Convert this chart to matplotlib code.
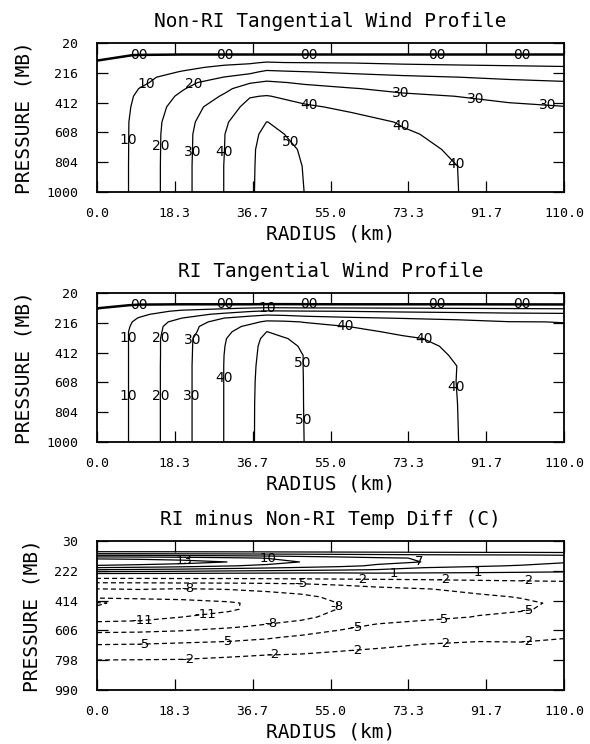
import numpy as np
import matplotlib
matplotlib.use("Agg")
import matplotlib.pyplot as plt

# ---------------- data ----------------
radius_km = [0, 10, 20, 30, 36, 40, 44, 49, 60, 72, 85, 97, 110]

# Non-RI tangential wind (m/s); rows = pressure levels, columns = radius_km
p_nonri = [20, 60, 100, 150, 180, 210, 245, 280, 320, 370, 440, 540, 620, 720, 830, 1000]
vt_nonri = [
    [-5.0] * 13,
    [-2.5] * 13,
    [-0.5, 0.1, 0.3, 0.3, 0.3, 0.3, 0.3, 0.3, 0.3, 0.3, 0.3, 0.3, 0.3],
    [0.2, 2.4, 5.0, 7.8, 9.0, 11.0, 10.3, 10.1, 9.75, 8.7, 8.0, 7.5, 7.0],
    [0.2, 3.8, 7.8, 11.9, 13.7, 16.5, 15.9, 15.2, 14.3, 13.0, 12.1, 11.4, 10.7],
    [0.2, 5.2, 10.5, 15.8, 18.3, 21.6, 20.9, 20.2, 18.7, 17.1, 15.8, 14.8, 13.9],
    [0.2, 7.1, 14.35, 20.2, 23.2, 26.6, 25.6, 24.6, 22.7, 21.3, 20.05, 18.75, 17.5],
    [0.2, 7.9, 16.9, 25.3, 29.35, 31.2, 30.2, 28.9, 26.4, 24.5, 22.8, 21.7, 20.7],
    [0.2, 10.2, 19.2, 28.0, 34.3, 35.4, 33.9, 32.4, 30.4, 28.1, 25.9, 24.5, 23.2],
    [0.2, 11.6, 21.7, 31.1, 39.5, 40.4, 38.9, 36.3, 33.3, 31.4, 29.9, 28.0, 26.3],
    [0.2, 12.5, 24.2, 35.6, 42.7, 44.3, 42.9, 41.3, 38.0, 34.6, 32.5, 31.3, 30.2],
    [0.2, 13.25, 26.0, 38.7, 46.5, 50.1, 48.75, 47.0, 43.35, 39.3, 35.8, 33.6, 31.2],
    [0.2, 13.3, 26.6, 39.8, 48.2, 51.6, 50.05, 48.3, 44.8, 41.0, 37.8, 35.0, 31.8],
    [0.2, 13.35, 26.7, 39.95, 48.47, 53.0, 51.3, 49.27, 46.0, 42.4, 39.0, 35.7, 32.3],
    [0.2, 13.4, 26.8, 40.2, 48.4, 53.7, 51.9, 49.7, 46.6, 43.2, 39.98, 36.6, 32.9],
    [0.2, 13.4, 26.8, 40.2, 48.5, 54.0, 52.2, 49.9, 46.9, 43.5, 40.05, 36.7, 33.0],
]

# RI tangential wind (m/s)
p_ri = [20, 60, 100, 120, 140, 160, 185, 210, 240, 275, 320, 370, 430, 500, 600, 750, 1000]
vt_ri = [
    [-6.0] * 13,
    [-3.0] * 13,
    [-1.0, 0.3, 0.5, 0.5, 0.5, 0.6, 0.6, 0.55, 0.5, 0.5, 0.5, 0.45, 0.4],
    [-0.1, 2.8, 6.9, 8.7, 10.5, 11.9, 11.4, 10.95, 10.8, 10.1, 9.6, 9.1, 8.6],
    [0.2, 5.9, 11.7, 15.8, 19.3, 21.1, 20.9, 20.5, 19.7, 18.7, 17.9, 16.9, 16.2],
    [0.2, 8.2, 15.5, 22.3, 26.3, 28.5, 28.1, 26.6, 24.9, 23.9, 22.9, 22.1, 21.6],
    [0.2, 10.5, 20.0, 30.05, 33.8, 35.8, 34.7, 33.2, 31.2, 29.5, 27.8, 26.5, 25.5],
    [0.2, 12.0, 23.8, 33.8, 37.6, 41.5, 41.3, 39.6, 37.5, 35.0, 32.7, 30.2, 29.9],
    [0.2, 12.8, 25.7, 36.2, 41.9, 44.9, 44.0, 42.4, 39.7, 36.7, 34.3, 32.0, 30.4],
    [0.2, 13.4, 25.85, 37.5, 45.8, 50.05, 48.8, 47.0, 42.3, 38.3, 35.5, 33.0, 30.8],
    [0.2, 13.4, 26.7, 39.4, 46.6, 52.0, 50.3, 48.8, 44.3, 41.3, 37.8, 34.7, 31.5],
    [0.2, 13.4, 26.7, 39.8, 48.3, 51.8, 50.6, 49.7, 45.2, 41.6, 39.2, 35.4, 32.0],
    [0.2, 13.4, 26.7, 40.1, 48.2, 52.4, 51.0, 49.9, 45.6, 42.0, 39.6, 35.8, 32.3],
    [0.2, 13.4, 26.8, 40.2, 48.3, 53.0, 51.5, 49.85, 46.0, 42.6, 39.95, 36.2, 32.6],
    [0.2, 13.4, 26.8, 40.2, 48.4, 53.5, 51.8, 49.85, 46.4, 43.0, 39.9, 36.4, 32.8],
    [0.2, 13.4, 26.8, 40.2, 48.5, 53.8, 52.0, 49.85, 46.7, 43.3, 39.98, 36.6, 32.9],
    [0.2, 13.4, 26.8, 40.2, 48.5, 54.0, 52.2, 49.9, 46.9, 43.5, 40.05, 36.7, 33.0],
]

# RI minus Non-RI temperature difference (C)
radius_temp = [0, 10, 20, 31, 40, 48, 57, 66, 77, 90, 100, 110]
p_temp = [30, 90, 105, 120, 140, 165, 190, 215, 240, 270, 300, 340, 390, 430,
          470, 520, 580, 650, 720, 800, 990]
temp_diff = [
    [0.0] * 12,
    [-0.5] * 12,
    [2.0, 2.0, 1.9, 1.8, 1.7, 1.6, 1.5, 1.4, 1.3, 1.2, 1.2, 1.1],
    [6.4, 6.3, 6.1, 5.8, 5.5, 5.2, 4.9, 4.6, 4.3, 4.1, 4.0, 3.9],
    [12.2, 11.9, 11.4, 10.6, 9.9, 9.0, 8.2, 7.4, 6.8, 5.9, 5.4, 5.0],
    [15.9, 15.3, 14.4, 12.95, 11.4, 9.95, 8.9, 7.7, 6.95, 5.8, 5.0, 4.2],
    [12.6, 12.0, 11.3, 10.2, 9.3, 8.5, 7.7, 6.6, 5.0, 4.3, 3.8, 3.3],
    [7.0, 6.6, 6.2, 5.6, 5.2, 4.8, 4.4, 3.9, 2.9, 2.5, 2.2, 1.9],
    [0.9, 0.8, 0.7, 0.5, 0.4, 0.3, 0.3, 0.6, 0.6, 0.5, 0.4, 0.3],
    [-1.9, -1.9, -1.8, -1.8, -1.7, -1.6, -1.5, -1.4, -1.3, -1.1, -1.0, -1.0],
    [-5.1, -5.05, -4.95, -4.9, -4.8, -4.7, -4.4, -4.0, -3.6, -3.1, -2.8, -2.5],
    [-8.1, -7.9, -8.2, -7.9, -7.4, -6.9, -6.1, -5.5, -5.1, -4.5, -4.1, -3.7],
    [-10.2, -10.1, -10.2, -9.9, -9.3, -8.6, -7.4, -6.4, -5.9, -5.3, -4.9, -4.4],
    [-14.3, -13.0, -12.0, -11.3, -10.3, -9.4, -7.95, -6.8, -6.2, -5.5, -5.3, -4.7],
    [-13.6, -12.9, -12.1, -11.3, -10.2, -9.4, -7.9, -6.8, -6.1, -5.4, -5.15, -4.6],
    [-12.0, -11.8, -11.0, -10.3, -9.3, -8.6, -7.2, -6.1, -5.5, -4.9, -4.6, -4.2],
    [-10.0, -9.8, -9.3, -8.4, -7.6, -6.9, -5.6, -4.6, -4.1, -3.7, -3.4, -3.1],
    [-6.5, -6.4, -6.1, -5.7, -5.3, -4.6, -3.9, -3.2, -2.7, -2.4, -2.4, -2.1],
    [-4.3, -4.2, -4.0, -3.9, -3.4, -3.1, -2.5, -2.05, -1.6, -1.4, -1.5, -1.3],
    [-1.9, -1.85, -1.8, -1.3, -0.9, -0.8, -0.6, -0.4, -0.2, -0.1, 0.0, 0.1],
    [-0.8, -0.8, -0.8, -0.7, -0.6, -0.5, -0.4, -0.3, -0.2, -0.1, 0.0, 0.1],
]

wind_levels = [0, 10, 20, 30, 40, 50]
wind_level_text = {0: "00", 10: "10", 20: "20", 30: "30", 40: "40", 50: "50"}
temp_levels = [-14, -11, -8, -5, -2, 1, 4, 7, 10, 13]

x_ticks = [0, 18.333, 36.667, 55, 73.333, 91.667, 110]
x_tick_labels = ["0.0", "18.3", "36.7", "55.0", "73.3", "91.7", "110.0"]
wind_yticks = [20, 216, 412, 608, 804, 1000]
temp_yticks = [30, 222, 414, 606, 798, 990]

titles = ["Non-RI Tangential Wind Profile",
          "RI Tangential Wind Profile",
          "RI minus Non-RI Temp Diff (C)"]

# label anchor spots (radius, pressure) – snapped to the nearest contour
nonri_label_spots = [(9.9, 97), (30.2, 97), (50, 97), (80, 97), (100, 97),
                     (11.7, 298), (7.7, 659), (23.0, 298), (15.3, 696),
                     (71.6, 335), (89.3, 379), (106.2, 422), (22.4, 735),
                     (49.9, 418), (72, 554), (84.5, 816), (29.9, 735),
                     (46.1, 659)]
ri_label_spots = [(9.9, 97), (30.2, 97), (50, 97), (80, 97), (100, 97),
                  (7.7, 315), (7.7, 696), (40.1, 116),
                  (15.3, 315), (14.8, 696), (22.8, 331), (22.2, 696),
                  (29.9, 578), (58.5, 239), (77.2, 320), (84.9, 637),
                  (48.5, 479), (48.5, 856)]
temp_label_spots = [(20.4, 156), (40.3, 142), (76, 152), (69.8, 240), (89.8, 240),
                    (62.1, 277), (81.8, 283), (101.3, 292), (21.5, 335), (48.1, 309),
                    (56, 449), (10.8, 552), (25.5, 509), (41, 562),
                    (101.3, 478), (81.3, 537), (61, 590), (30.3, 670), (10.8, 692),
                    (21.5, 790), (41.4, 765), (61, 730), (81.8, 692), (101.3, 680)]

# ---------------- drawing ----------------
MONO = "DejaVu Sans Mono"
fig = plt.figure(figsize=(5.9, 7.44), dpi=100)
rects = [[97 / 590, 1 - 192 / 744, 467 / 590, 149 / 744],
         [97 / 590, 1 - 442 / 744, 467 / 590, 149 / 744],
         [97 / 590, 1 - 690 / 744, 467 / 590, 149 / 744]]


def style_axes(ax, yticks, ylim, title):
    ax.set_xlim(0, 110)
    ax.set_ylim(ylim[1], ylim[0])
    ax.set_xticks(x_ticks)
    ax.set_xticklabels(x_tick_labels, family=MONO, fontsize=9.5)
    ax.set_yticks(yticks)
    ax.set_yticklabels([str(v) for v in yticks], family=MONO, fontsize=9.5)
    ax.tick_params(axis="both", direction="in", length=8, width=0.9,
                   top=True, right=True, color="black")
    ax.tick_params(axis="x", pad=11)
    ax.tick_params(axis="y", pad=13.5)
    for s in ax.spines.values():
        s.set_linewidth(1.3)
    ax.set_title(title, family=MONO, fontsize=14, pad=11.5)
    ax.set_xlabel("RADIUS (km)", family=MONO, fontsize=14, labelpad=3)
    ax.set_ylabel("PRESSURE (MB)", family=MONO, fontsize=14, labelpad=9)


def label_contours(ax, cs, spots, fmt, size):
    ax.clabel(cs, inline=False, fmt=fmt, fontsize=size,
              colors="black", manual=spots)
    for t in cs.labelTexts:
        t.set_rotation(0)
        t.set_family("DejaVu Sans")


for i, (pres, field, spots) in enumerate([(p_nonri, vt_nonri, nonri_label_spots),
                                           (p_ri, vt_ri, ri_label_spots)]):
    ax = fig.add_axes(rects[i])
    R, P = np.meshgrid(radius_km, pres)
    cs = ax.contour(R, P, np.array(field), levels=wind_levels, colors="black",
                    linewidths=[1.8 if l == 0 else 0.9 for l in wind_levels],
                    linestyles="solid")
    label_contours(ax, cs, spots, wind_level_text, 10)
    style_axes(ax, wind_yticks, (20, 1000), titles[i])

ax = fig.add_axes(rects[2])
R, P = np.meshgrid(radius_temp, p_temp)
cs = ax.contour(R, P, np.array(temp_diff), levels=temp_levels, colors="black",
                linewidths=0.9,
                linestyles=["solid" if l > 0 else (0, (4, 2.5)) for l in temp_levels])
label_contours(ax, cs, temp_label_spots, lambda v: f"{v:.0f}", 9.5)
style_axes(ax, temp_yticks, (30, 990), titles[2])

fig.savefig("out.png", dpi=100)
